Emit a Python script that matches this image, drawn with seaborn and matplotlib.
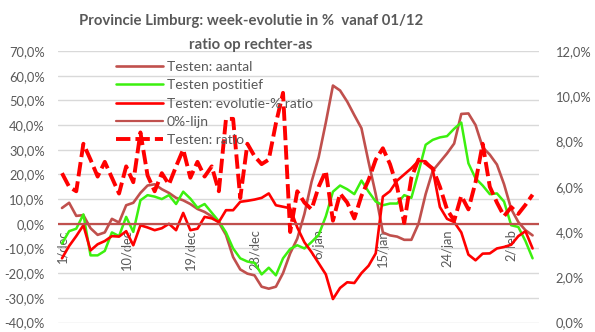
import numpy as np
import pandas as pd
import matplotlib
matplotlib.use("Agg")
import matplotlib.pyplot as plt
import seaborn as sns
from matplotlib.ticker import FuncFormatter, MultipleLocator, FixedLocator

# Week-on-week evolution (%) per day, Provincie Limburg, from 1 December
tick_days = [0, 9, 18, 27, 36, 45, 54, 63]
tick_labels = ["1/dec", "10/dec", "19/dec", "28/dec", "6/jan", "15/jan", "24/jan", "2/feb"]

testen_aantal = [6.4, 8.5, 3.2, 3.5, -1.8, -4.5, -3.5, 2.0, 0.5, 7.5,
                 8.5, 12.5, 15.5, 16.0, 14.0, 12.5, 10.5, 9.5, 8.0, 6.0,
                 4.8, 3.0, 0.5, -4.5, -13.5, -18.5, -20.2, -20.9, -25.5, -26.3,
                 -25.5, -20.0, -12.0, -6.0, 4.0, 17.0, 27.0, 41.0, 56.0, 54.0,
                 49.5, 44.0, 38.7, 25.0, 12.0, -3.5, -4.7, -5.2, -6.5, -6.5,
                 0.0, 12.0, 21.5, 25.0, 28.5, 32.5, 44.5, 44.7, 40.0, 31.0,
                 28.0, 24.0, 16.0, 6.0, 0.7, -2.6, -4.7]

testen_positief = [-8.0, -3.0, -2.0, 3.8, -12.8, -12.8, -11.0, -3.5, -5.0, 2.8,
                   -3.3, 9.5, 11.6, 11.0, 10.0, 11.6, 8.0, 13.0, 10.2, 6.5,
                   8.0, 4.5, 1.0, -3.5, -10.0, -14.0, -15.3, -15.8, -20.5, -17.8,
                   -20.9, -14.0, -10.2, -8.7, -10.0, -7.4, -4.5, 3.0, 13.0, 15.5,
                   14.0, 12.0, 17.5, 13.0, 9.0, 7.5, 8.2, 8.2, 11.6, 10.5,
                   21.0, 32.0, 34.0, 35.0, 35.5, 38.5, 41.0, 24.5, 18.4, 15.5,
                   12.0, 12.3, 9.0, -0.6, -1.3, -7.0, -14.0]

evolutie_ratio = [-14.0, -9.0, -5.0, -0.6, -10.8, -8.3, -7.0, -5.0, -5.2, -3.0,
                  -8.7, -0.6, -1.5, -2.6, -1.8, 0.0, -2.6, 4.4, -2.6, -2.0,
                  2.8, 2.2, 0.7, 5.5, 5.5, 8.9, 9.3, 9.8, 10.5, 12.3,
                  7.5, 6.9, 6.3, -1.5, -7.5, -11.5, -16.0, -20.5, -30.5, -26.0,
                  -23.7, -24.0, -20.0, -17.0, -12.0, 11.0, 13.2, 17.5, 20.0, 22.5,
                  25.5, 25.3, 22.0, 6.8, 2.0, 0.7, -3.5, -12.5, -14.8, -12.1,
                  -12.0, -10.0, -9.4, -8.5, -5.0, -3.0, -10.0]

nul_lijn = 0.0

# Positivity ratio (%), plotted against the right-hand axis
testen_ratio = [6.6, 6.0, 5.8, 7.9, 7.2, 6.45, 7.1, 6.4, 5.7, 6.9,
                6.2, 8.4, 6.5, 5.8, 6.6, 6.1, 6.9, 7.65, 6.4, 7.1,
                6.45, 6.9, 5.8, 9.0, 9.0, 5.5, 7.9, 7.35, 7.0, 7.2,
                8.8, 10.15, 4.0, 5.8, 5.3, 5.0, 6.0, 6.7, 4.5, 5.7,
                5.3, 4.6, 5.6, 6.3, 7.2, 7.7, 7.0, 6.0, 4.4, 6.4,
                7.2, 7.05, 6.8, 6.0, 5.0, 4.5, 5.6, 5.0, 6.2, 7.9,
                6.0, 5.3, 4.7, 5.1, 4.8, 5.2, 5.65]

days = np.arange(len(testen_aantal))
df = pd.DataFrame({
    "dag": days,
    "aantal": testen_aantal,
    "positief": testen_positief,
    "evolutie": evolutie_ratio,
    "ratio": testen_ratio,
})

sns.set_theme(style="white")
plt.rcParams["font.family"] = ["Lato", "DejaVu Sans"]
TXT = "#595959"

fig = plt.figure(figsize=(5.95, 3.32), dpi=100)
ax = fig.add_axes([58 / 595, 9.5 / 332, 481 / 595, 271.5 / 332])
ax2 = ax.twinx()

sns.lineplot(data=df, x="dag", y="aantal", ax=ax, color="#C0504D", lw=1.9,
             label="Testen: aantal", zorder=3)
sns.lineplot(data=df, x="dag", y="positief", ax=ax, color="#3CF00F", lw=1.8,
             label="Testen postitief", zorder=3)
sns.lineplot(data=df, x="dag", y="evolutie", ax=ax, color="#FF0000", lw=1.9,
             label="Testen: evolutie-% ratio", zorder=3)
ax.axhline(nul_lijn, color="#C0504D", lw=1.6, label="0%-lijn", zorder=4)
sns.lineplot(data=df, x="dag", y="ratio", ax=ax2, color="#FF0000", lw=2.8,
             linestyle=(0, (3.7, 1.3)), label="Testen: ratio", zorder=5)

for line in ax.get_lines() + ax2.get_lines():
    line.set_solid_joinstyle("round")

# Axes ranges and ticks
ax.set_xlim(-0.56, 66.9)
ax.set_ylim(-40, 70)
ax2.set_ylim(0, 12)
ax.yaxis.set_major_locator(MultipleLocator(10))
ax2.yaxis.set_major_locator(MultipleLocator(2))
pct = FuncFormatter(lambda v, _: f"{v:.1f}%".replace(".", ","))
ax.yaxis.set_major_formatter(pct)
ax2.yaxis.set_major_formatter(pct)

ax.xaxis.set_major_locator(FixedLocator(tick_days))
ax.set_xticklabels(tick_labels)
ax.spines["bottom"].set_position(("data", 0))

for s in ax.spines.values():
    s.set_visible(False)
for s in ax2.spines.values():
    s.set_visible(False)

ax.yaxis.grid(True, color="#D9D9D9", lw=1)
ax.set_axisbelow(True)
ax.tick_params(axis="y", length=0, pad=9.5, labelsize=9.3, labelcolor=TXT)
ax2.tick_params(axis="y", length=0, pad=12, labelsize=9.3, labelcolor=TXT)
ax.tick_params(axis="x", length=0, pad=4, labelsize=9.3, labelcolor=TXT,
               labelrotation=90)
ax.set_xlabel("")
ax.set_ylabel("")
ax2.set_ylabel("")

# Combined legend
h1, l1 = ax.get_legend_handles_labels()
h2, l2 = ax2.get_legend_handles_labels()
if ax.get_legend():
    ax.get_legend().remove()
if ax2.get_legend():
    ax2.get_legend().remove()
leg = ax2.legend(h1 + h2, l1 + l2, loc="upper left",
                 bbox_to_anchor=(116 / 595, 1 - 61 / 332), bbox_transform=fig.transFigure,
                 frameon=False, fontsize=10, handlelength=3.4, handletextpad=0.25,
                 labelspacing=0.45, borderpad=0, borderaxespad=0, labelcolor=TXT)

fig.text(251 / 595, 1 - 20.5 / 332, "Provincie Limburg: week-evolutie in %  vanaf 01/12",
         ha="center", va="center", fontsize=10.7, fontweight="bold", color=TXT)
fig.text(251 / 595, 1 - 44.5 / 332, "ratio op rechter-as",
         ha="center", va="center", fontsize=10.7, fontweight="bold", color=TXT)

fig.savefig("out.png", dpi=100)
